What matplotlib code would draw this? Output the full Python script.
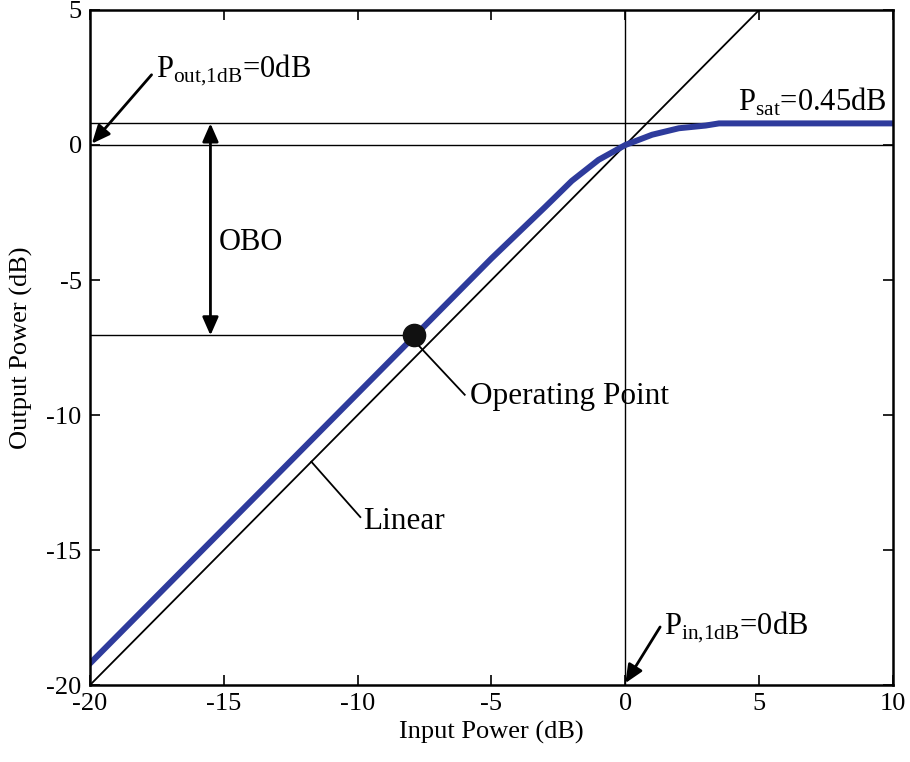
import numpy as np
import matplotlib
matplotlib.use('Agg')
import matplotlib.pyplot as plt

plt.rcParams['font.family'] = ['Liberation Serif', 'DejaVu Serif']
plt.rcParams['mathtext.fontset'] = 'custom'
plt.rcParams['mathtext.rm'] = 'Liberation Serif'
plt.rcParams['axes.unicode_minus'] = False

# amplifier transfer curve (dB in -> dB out)
pin = [-20, -15, -10, -5, -4, -3, -2, -1, 0, 1, 2, 3, 3.5, 5, 10]
pout = [-19.2, -14.2, -9.2, -4.2, -3.25, -2.3, -1.33, -0.55, 0.0, 0.38, 0.62, 0.72, 0.8, 0.8, 0.8]
linear_x = [-20, 5]
linear_y = [-20, 5]
sat_level = 0.8
op_in, op_out = -7.9, -7.05
obo_x = -15.5

fig = plt.figure(figsize=(9.1, 7.62), dpi=100)
ax = fig.add_axes([0.0989, 0.1010, 0.8824, 0.8859])

ax.axhline(0, color='black', lw=1.0)
ax.axhline(sat_level, color='black', lw=1.0)
ax.axvline(0, color='black', lw=1.0)
ax.plot([-20, op_in], [op_out, op_out], color='black', lw=1.0)
ax.plot(linear_x, linear_y, color='black', lw=1.3)
ax.plot(pin, pout, color='#2E3B9C', lw=4.3, solid_joinstyle='miter')
ax.plot(op_in, op_out, 'o', color='#111111', ms=16)

# output back-off arrow
ax.annotate('', xy=(obo_x, sat_level), xytext=(obo_x, op_out),
            arrowprops=dict(arrowstyle='<|-|>,head_length=0.5,head_width=0.22',
                            color='black', lw=2.0, mutation_scale=22,
                            shrinkA=0, shrinkB=0))
ax.text(-15.2, -3.6, 'OBO', fontsize=22, va='center', ha='left')

arrow = dict(arrowstyle='-|>,head_length=0.5,head_width=0.22', color='black',
             lw=2.0, mutation_scale=22, shrinkA=0, shrinkB=0)
ax.annotate('', xy=(-19.93, 0.05), xytext=(-17.7, 2.6), arrowprops=arrow)
ax.text(-17.55, 2.8, r'P$_{\rm out{,}1dB}$=0dB', fontsize=22, va='center', ha='left')

ax.annotate('', xy=(0.0, -19.93), xytext=(1.3, -17.85), arrowprops=arrow)
ax.text(1.45, -17.85, r'P$_{\rm in{,}1dB}$=0dB', fontsize=22, va='center', ha='left')

ax.text(9.75, 1.6, r'P$_{\rm sat}$=0.45dB', fontsize=22, va='center', ha='right')

ax.plot([-7.7, -6.0], [-7.45, -9.25], color='black', lw=1.3)
ax.text(-5.8, -9.33, 'Operating Point', fontsize=22.5, va='center', ha='left')

ax.plot([-11.73, -9.9], [-11.73, -13.78], color='black', lw=1.3)
ax.text(-9.8, -13.96, 'Linear', fontsize=22.5, va='center', ha='left')

ax.set_xlim(-20, 10)
ax.set_ylim(-20, 5)
ax.set_xticks([-20, -15, -10, -5, 0, 5, 10])
ax.set_yticks([-20, -15, -10, -5, 0, 5])
ax.tick_params(direction='in', top=True, right=True, length=7, width=1.2,
               labelsize=19, pad=6)
for s in ax.spines.values():
    s.set_linewidth(1.8)
ax.set_xlabel('Input Power (dB)', fontsize=19, labelpad=4)
ax.set_ylabel('Output Power (dB)', fontsize=19, labelpad=10)

fig.savefig('out.png', dpi=100)
